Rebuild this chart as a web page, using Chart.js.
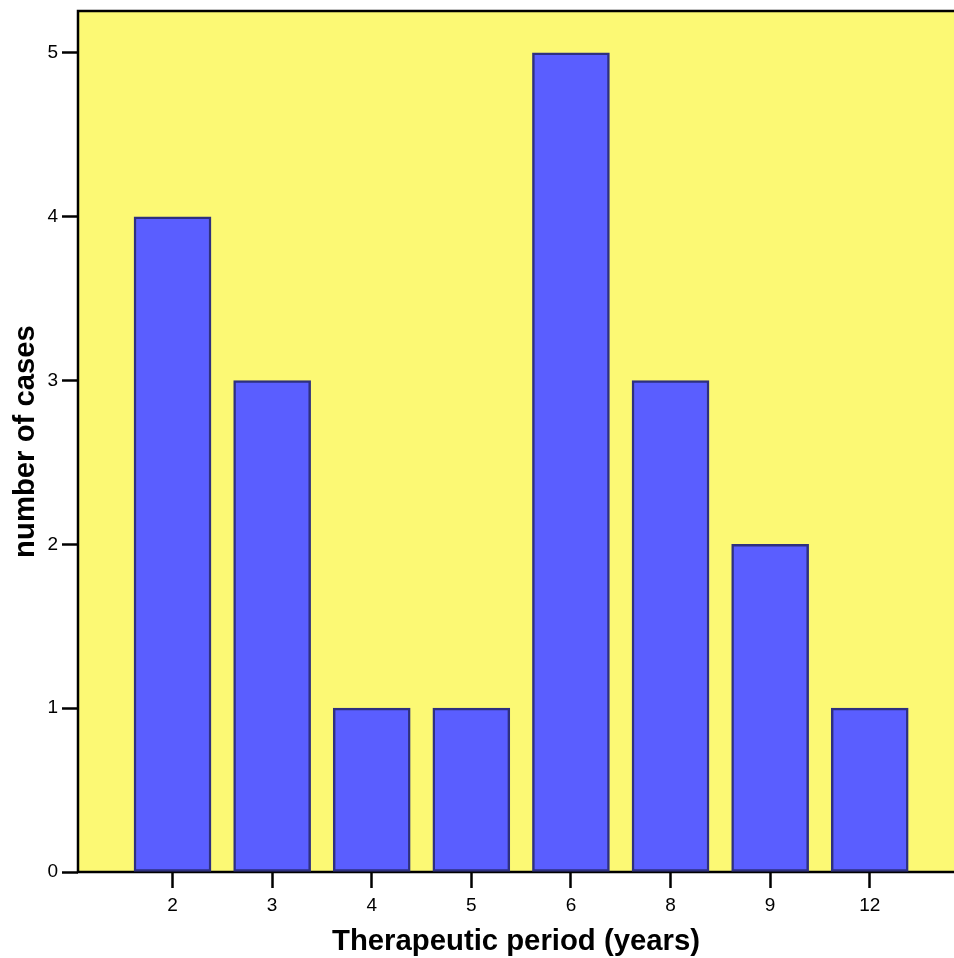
<!DOCTYPE html>
<html>
<head>
<meta charset="utf-8">
<style>
html, body { margin: 0; padding: 0; background: #fff; }
#wrap { width: 954px; height: 958px; }
</style>
<script src="https://cdn.jsdelivr.net/npm/chart.js@4"></script>
</head>
<body>
<div id="wrap"><canvas id="myChart" width="954" height="958"></canvas></div>
<script>
const periods = ['2', '3', '4', '5', '6', '8', '9', '12'];
const cases = [4, 3, 1, 1, 5, 3, 2, 1];
const xTitle = 'Therapeutic period (years)';
const yTitle = 'number of cases';

const plotBg = {
  id: 'plotBg',
  beforeDraw(chart) {
    const c = chart.ctx, a = chart.chartArea;
    c.save();
    c.fillStyle = '#fcf974';
    c.fillRect(a.left, a.top, a.right - a.left, a.bottom - a.top);
    c.restore();
  },
  // axis frame goes under the bars, their outline sits on top of the base line
  beforeDatasetsDraw(chart) {
    const c = chart.ctx, a = chart.chartArea;
    c.save();
    c.strokeStyle = '#000';
    c.lineWidth = 2.5;
    c.beginPath();
    c.moveTo(a.right, a.top);
    c.lineTo(a.left, a.top);
    c.lineTo(a.left, a.bottom);
    c.lineTo(a.right, a.bottom);
    c.stroke();
    c.restore();
  }
};

new Chart(document.getElementById('myChart').getContext('2d'), {
  type: 'bar',
  data: {
    datasets: [{
      data: cases.map((v, i) => ({ x: i, y: v })),
      backgroundColor: '#5a5eff',
      borderColor: '#2e3080',
      borderWidth: 2.5,
      borderSkipped: false,
      barThickness: 77
    }]
  },
  plugins: [plotBg],
  options: {
    responsive: false,
    animation: false,
    layout: { autoPadding: false, padding: { top: 11, right: 0, bottom: 0, left: 0 } },
    plugins: { legend: { display: false }, tooltip: { enabled: false } },
    scales: {
      x: {
        type: 'linear',
        offset: false,
        min: -0.949,
        max: 7.846,
        afterBuildTicks(axis) { axis.ticks = periods.map((p, i) => ({ value: i })); },
        afterFit(axis) { axis.height = 86; },
        grid: { offset: false, drawOnChartArea: false, drawTicks: true, tickLength: 16, tickColor: '#000', tickWidth: 2.5 },
        border: { display: false },
        ticks: {
          color: '#000',
          font: { family: 'Liberation Sans', size: 19 },
          padding: 6,
          maxRotation: 0,
          autoSkip: false,
          callback: (v) => periods[v]
        },
        title: { display: true, text: xTitle, color: '#000', font: { family: 'Liberation Sans', size: 29.3, weight: 'bold' }, padding: { top: 0, bottom: -1 } }
      },
      y: {
        min: 0,
        max: 5.256,
        // tick labels must not reserve room above the frame
        afterFit(axis) { axis.width = 78; axis.paddingTop = 0; axis.paddingBottom = 0; },
        grid: { drawOnChartArea: false, drawTicks: true, tickLength: 16, tickColor: '#000', tickWidth: 2.5 },
        border: { display: false },
        ticks: { color: '#000', font: { family: 'Liberation Sans', size: 19 }, padding: 4, stepSize: 1, includeBounds: false },
        title: { display: true, text: yTitle, color: '#000', font: { family: 'Liberation Sans', size: 29.3, weight: 'bold' }, padding: { top: 8, bottom: 0 } }
      }
    }
  }
});
</script>
</body>
</html>
